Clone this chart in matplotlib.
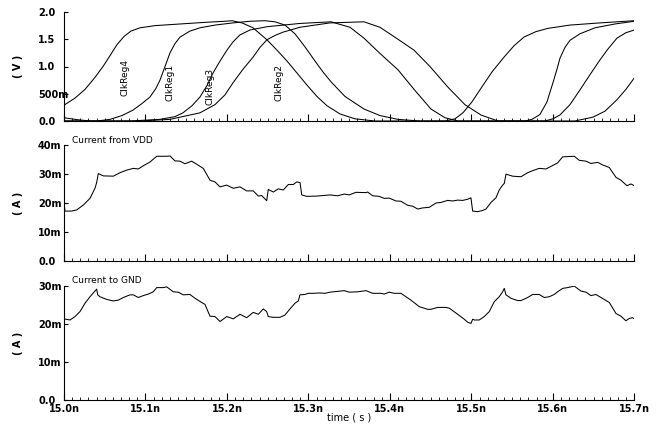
import matplotlib.pyplot as plt
from matplotlib.ticker import MultipleLocator

# ---- clock waveforms (time in ns, volts)
t_clk4 = [15.0, 15.0135, 15.0258, 15.0380, 15.0479, 15.0565, 15.0650, 15.0736, 15.0822, 15.0933,
          15.1117, 15.1424, 15.1730, 15.1976, 15.2062, 15.2185, 15.2320, 15.2491, 15.2614, 15.2737,
          15.2860, 15.2982, 15.3105, 15.3228, 15.3387, 15.3571, 15.3817, 15.4676, 15.4799, 15.4897,
          15.5007, 15.5118, 15.5253, 15.5400, 15.5523, 15.5646, 15.5793, 15.5940, 15.6210, 15.6578, 15.7]
v_clk4 = [0.29, 0.42, 0.58, 0.80, 1.00, 1.20, 1.40, 1.55, 1.65, 1.71,
          1.75, 1.78, 1.81, 1.83, 1.84, 1.80, 1.71, 1.49, 1.30, 1.10,
          0.88, 0.66, 0.45, 0.28, 0.13, 0.04, 0.0, 0.0, 0.04, 0.15,
          0.35, 0.60, 0.90, 1.17, 1.38, 1.54, 1.64, 1.70, 1.76, 1.80, 1.84]

t_clk1 = [15.0, 15.0160, 15.0319, 15.0405, 15.0565, 15.0712, 15.0847, 15.0957, 15.1055, 15.1129,
          15.1178, 15.1240, 15.1301, 15.1362, 15.1424, 15.1546, 15.1669, 15.1853, 15.2074, 15.2283,
          15.2467, 15.2590, 15.2712, 15.2835, 15.2958, 15.3081, 15.3179, 15.3277, 15.3449, 15.3682,
          15.3878, 15.4099, 15.4369, 15.5658, 15.5744, 15.5842, 15.5928, 15.6001, 15.6051, 15.6087,
          15.6149, 15.6210, 15.6333, 15.6517, 15.6762, 15.7]
v_clk1 = [0.06, 0.025, 0.0, 0.0, 0.03, 0.10, 0.20, 0.32, 0.44, 0.60,
          0.75, 1.00, 1.25, 1.42, 1.54, 1.65, 1.71, 1.76, 1.80, 1.83,
          1.84, 1.82, 1.76, 1.60, 1.36, 1.10, 0.90, 0.72, 0.45, 0.22,
          0.10, 0.03, 0.0, 0.0, 0.03, 0.12, 0.35, 0.70, 0.95, 1.15,
          1.35, 1.48, 1.60, 1.71, 1.78, 1.83]

t_clk3 = [15.0, 15.0810, 15.1178, 15.1362, 15.1460, 15.1571, 15.1669, 15.1755, 15.1829, 15.1915,
          15.2000, 15.2074, 15.2160, 15.2283, 15.2491, 15.2896, 15.3277, 15.3510, 15.3682, 15.3878,
          15.4099, 15.4308, 15.4504, 15.4676, 15.4836, 15.5903, 15.6001, 15.6087, 15.6210, 15.6333,
          15.6456, 15.6578, 15.6676, 15.6787, 15.6897, 15.7]
v_clk3 = [0.0, 0.0, 0.03, 0.08, 0.15, 0.28, 0.44, 0.65, 0.88, 1.10,
          1.30, 1.45, 1.58, 1.67, 1.73, 1.79, 1.82, 1.72, 1.52, 1.24,
          0.94, 0.56, 0.22, 0.06, 0.0, 0.0, 0.04, 0.11, 0.30, 0.57,
          0.85, 1.12, 1.32, 1.52, 1.62, 1.67]

t_clk2 = [15.0, 15.0933, 15.1301, 15.1669, 15.1853, 15.1976, 15.2074, 15.2197, 15.2320, 15.2405,
          15.2491, 15.2590, 15.2688, 15.2896, 15.3265, 15.3682, 15.3878, 15.4099, 15.4296, 15.4492,
          15.4713, 15.4921, 15.5118, 15.5326, 15.6271, 15.6333, 15.6492, 15.6640, 15.6787, 15.6897, 15.7]
v_clk2 = [0.0, 0.0, 0.03, 0.15, 0.30, 0.48, 0.70, 0.95, 1.17, 1.35,
          1.49, 1.57, 1.63, 1.72, 1.80, 1.82, 1.72, 1.50, 1.30, 1.00,
          0.62, 0.30, 0.11, 0.0, 0.0, 0.02, 0.07, 0.18, 0.39, 0.58, 0.79]

clk_names = ["ClkReg4", "ClkReg1", "ClkReg3", "ClkReg2"]
clk_label_t = [15.0749, 15.130, 15.179, 15.264]
clk_label_v = [0.80, 0.71, 0.64, 0.71]

# ---- current from VDD (mA)
t_vdd = [15.0, 15.0012, 15.0094, 15.0156, 15.0237, 15.0319, 15.0380, 15.0401, 15.0421, 15.0482,
         15.0605, 15.0687, 15.0770, 15.0851, 15.0912, 15.0973, 15.1055, 15.1138, 15.1260, 15.1301,
         15.1362, 15.1424, 15.1485, 15.1567, 15.1648, 15.1710, 15.1792, 15.1853, 15.1915, 15.1997,
         15.2078, 15.2160, 15.2242, 15.2323, 15.2385, 15.2426, 15.2488, 15.2507, 15.2569, 15.2630,
         15.2691, 15.2753, 15.2814, 15.2856, 15.2897, 15.2918, 15.2979, 15.3101, 15.3265,
         15.3359, 15.3440, 15.3501, 15.3583, 15.3706, 15.3727, 15.3789, 15.3870, 15.3931,
         15.3992, 15.4075, 15.4136, 15.4218, 15.4280, 15.4341, 15.4402, 15.4483, 15.4566, 15.4627,
         15.4709, 15.4770, 15.4832, 15.4893, 15.4955, 15.4995, 15.5016, 15.5077, 15.5139, 15.5179,
         15.5241, 15.5302, 15.5342, 15.5384, 15.5404, 15.5425, 15.5507, 15.5609, 15.5691, 15.5752,
         15.5833, 15.5916, 15.5998, 15.6059, 15.6121, 15.6263, 15.6324, 15.6407, 15.6468, 15.6550,
         15.6611, 15.6693, 15.6775, 15.6836, 15.6910, 15.6959, 15.7]
i_vdd = [20.4, 17.2, 17.2, 17.6, 19.3, 21.6, 25.1, 27.1, 30.2, 29.4,
         29.3, 30.5, 31.4, 32.0, 31.8, 32.9, 34.2, 36.2, 36.2, 36.3,
         34.6, 34.5, 33.6, 34.5, 33.1, 32.0, 27.9, 27.3, 25.6, 26.2,
         25.1, 25.6, 24.2, 24.2, 22.4, 22.6, 20.8, 24.7, 23.8, 24.9,
         24.5, 26.4, 26.4, 27.3, 27.1, 22.8, 22.3, 22.4, 22.8,
         22.5, 23.1, 22.8, 23.7, 23.6, 23.8, 22.5, 22.3, 21.6,
         21.7, 20.7, 20.6, 19.2, 18.9, 17.9, 18.3, 18.5, 20.0, 20.2,
         20.9, 20.7, 21.0, 20.9, 21.3, 21.8, 17.2, 17.0, 17.4, 17.9,
         20.2, 21.8, 24.5, 26.2, 26.8, 30.0, 29.3, 29.1, 30.5, 31.2,
         32.0, 31.8, 33.0, 33.9, 36.0, 36.2, 34.8, 34.5, 33.7, 34.1,
         33.2, 32.3, 28.9, 27.9, 26.0, 26.6, 26.0]

# ---- current to GND (mA)
t_gnd = [15.0, 15.0021, 15.0074, 15.0135, 15.0196, 15.0258, 15.0319, 15.0401, 15.0414, 15.0442,
         15.0524, 15.0605, 15.0666, 15.0728, 15.0810, 15.0851, 15.0912, 15.0973, 15.1035, 15.1096,
         15.1138, 15.1219, 15.1260, 15.1341, 15.1403, 15.1464, 15.1546, 15.1608, 15.1690, 15.1730,
         15.1792, 15.1853, 15.1915, 15.1997, 15.2078, 15.2160, 15.2242, 15.2323, 15.2385, 15.2446,
         15.2488, 15.2507, 15.2569, 15.2651, 15.2712, 15.2774, 15.2835, 15.2876, 15.2896, 15.2958,
         15.2998, 15.3060, 15.3142, 15.3203, 15.3265,
         15.3440, 15.3501, 15.3605, 15.3706, 15.3789, 15.3891, 15.3931, 15.3992, 15.4054,
         15.4136, 15.4259, 15.4361, 15.4464, 15.4504, 15.4586, 15.4688, 15.4729, 15.4832, 15.4913,
         15.4955, 15.4995, 15.5016, 15.5036, 15.5097, 15.5158, 15.5220, 15.5281, 15.5342, 15.5384,
         15.5404, 15.5425, 15.5486, 15.5568, 15.5609, 15.5691, 15.5752, 15.5833, 15.5895, 15.5956,
         15.6017, 15.6059, 15.6121, 15.6182, 15.6263, 15.6345, 15.6407, 15.6468, 15.6529, 15.6591,
         15.6693, 15.6775, 15.6836, 15.6897, 15.6938, 15.6979, 15.7]
i_gnd = [21.4, 21.2, 21.0, 21.9, 23.2, 25.4, 27.1, 29.1, 27.6, 27.1,
         26.4, 26.0, 26.2, 26.9, 27.6, 27.6, 26.9, 27.4, 27.8, 28.4,
         29.5, 29.5, 29.7, 28.4, 28.3, 27.6, 27.7, 26.7, 25.6, 25.1,
         22.0, 21.9, 20.6, 21.9, 21.3, 22.5, 21.6, 23.0, 22.5, 23.9,
         23.2, 21.9, 21.7, 21.7, 22.3, 23.9, 25.4, 26.0, 27.6, 27.7,
         28.0, 28.0, 28.1, 28.0, 28.3,
         28.7, 28.3, 28.4, 28.7, 28.0, 28.0, 27.8, 28.3, 28.0,
         28.0, 26.2, 24.5, 23.8, 23.8, 24.3, 24.3, 24.1, 22.5, 21.2,
         20.4, 20.1, 21.2, 21.0, 21.0, 21.9, 23.2, 25.8, 27.1, 28.4,
         29.3, 27.6, 26.7, 26.1, 26.1, 26.9, 27.7, 27.7, 26.9, 27.1,
         27.7, 28.4, 29.3, 29.5, 29.9, 28.6, 28.3, 27.4, 27.7, 26.9,
         25.6, 22.7, 22.0, 20.8, 21.4, 21.6, 21.3]

x_ticks = [15.0, 15.1, 15.2, 15.3, 15.4, 15.5, 15.6, 15.7]
x_labels = ["15.0n", "15.1n", "15.2n", "15.3n", "15.4n", "15.5n", "15.6n", "15.7n"]

fig = plt.figure(figsize=(6.62, 4.26), dpi=100)
L, W = 64 / 662, 570.3 / 662
ax1 = fig.add_axes([L, 1 - 121 / 426, W, 109 / 426])
ax2 = fig.add_axes([L, 1 - 260.7 / 426, W, 115.4 / 426])
ax3 = fig.add_axes([L, 1 - 400 / 426, W, 114.3 / 426])

lw = 0.75
for t, v in [(t_clk4, v_clk4), (t_clk1, v_clk1), (t_clk3, v_clk3), (t_clk2, v_clk2)]:
    ax1.plot(t, v, color="k", lw=lw)
for name, tx, vy in zip(clk_names, clk_label_t, clk_label_v):
    ax1.text(tx, vy, name, rotation=90, fontsize=6.5, ha="center", va="center")
ax2.plot(t_vdd, i_vdd, color="k", lw=lw)
ax3.plot(t_gnd, i_gnd, color="k", lw=lw)

ax1.set_ylim(0, 2.0)
ax1.set_yticks([0, 0.5, 1.0, 1.5, 2.0])
ax1.set_yticklabels(["0.0", "500m", "1.0", "1.5", "2.0"])
ax2.set_ylim(0, 40)
ax2.set_yticks([0, 10, 20, 30, 40])
ax2.set_yticklabels(["0.0", "10m", "20m", "30m", "40m"])
ax3.set_ylim(0, 30)
ax3.set_yticks([0, 10, 20, 30])
ax3.set_yticklabels(["0.0", "10m", "20m", "30m"])

for ax in (ax1, ax2, ax3):
    ax.set_xlim(15.0, 15.7)
    ax.set_xticks(x_ticks)
    ax.xaxis.set_minor_locator(MultipleLocator(0.01))
    ax.spines["top"].set_visible(False)
    ax.spines["right"].set_visible(False)
    ax.spines["left"].set_linewidth(0.8)
    ax.spines["bottom"].set_linewidth(0.8)
    ax.tick_params(axis="x", which="major", direction="in", length=5, width=0.8)
    ax.tick_params(axis="x", which="minor", direction="in", length=2.5, width=0.6)
    ax.tick_params(axis="y", direction="in", length=3, width=0.8, pad=18.7, labelsize=7)
    for lab in ax.get_yticklabels():
        lab.set_ha("left")
        lab.set_fontweight("bold")
    ax.patch.set_visible(False)

ax1.tick_params(axis="x", labelbottom=False)
ax2.tick_params(axis="x", labelbottom=False)
ax3.set_xticklabels(x_labels, fontsize=7, fontweight="bold")
ax3.tick_params(axis="x", which="major", pad=3)

fig.text(18 / 662, 1 - 66 / 426, "( V )", rotation=90, ha="center", va="center", fontsize=7, fontweight="bold")
fig.text(18 / 662, 1 - 203 / 426, "( A )", rotation=90, ha="center", va="center", fontsize=7, fontweight="bold")
fig.text(18 / 662, 1 - 343 / 426, "( A )", rotation=90, ha="center", va="center", fontsize=7, fontweight="bold")
fig.text(327 / 662, 1 - 418 / 426, "time ( s )", ha="left", va="center", fontsize=7)
fig.text(72 / 662, 1 - 140 / 426, "Current from VDD", ha="left", va="center", fontsize=6.5)
fig.text(72 / 662, 1 - 280.5 / 426, "Current to GND", ha="left", va="center", fontsize=6.5)

fig.savefig("out.png", dpi=100)
